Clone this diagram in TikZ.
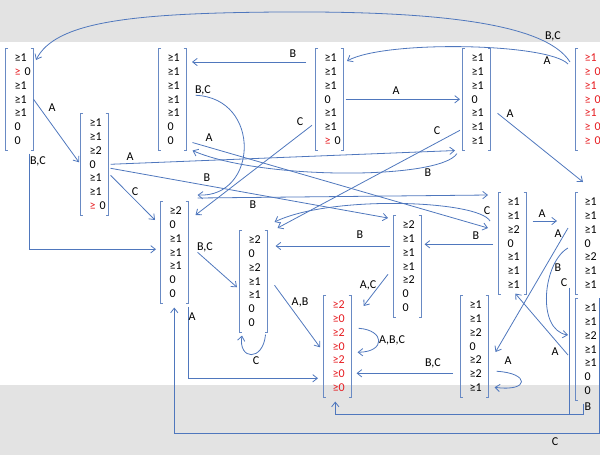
\documentclass[tikz,border=0pt]{standalone}
\usepackage{fontspec}
\setmainfont{Carlito}
\usetikzlibrary{arrows.meta,calc}
\definecolor{ln}{RGB}{79,119,189}
\definecolor{brc}{RGB}{105,138,196}
\definecolor{rd}{RGB}{230,25,30}
\definecolor{bgg}{RGB}{227,227,227}
\newcommand\rg[1]{\textcolor{rd}{#1}}
\newcommand\matfont{\fontsize{9}{10.3}\selectfont}
\begin{document}
\begin{tikzpicture}[x=0.75pt,y=-0.75pt,
 mat/.style={anchor=north west,minimum width=21pt,minimum height=76.5pt,inner xsep=7pt,inner ysep=0pt,text width=7pt,align=left,font=\matfont},
 brk/.style={draw=brc,line width=0.6pt},
 edge/.style={draw=ln,line width=0.6pt,-{Straight Barb[length=3.5pt,width=5.5pt]}},
 seg/.style={draw=ln,line width=0.6pt},
 lbl/.style={font=\fontsize{9}{10}\selectfont,inner sep=0pt}]
\useasboundingbox (0,0) rectangle (600,455);
\clip (0,0) rectangle (600,455);
\fill[bgg] (0,0) rectangle (600,42);
\fill[bgg] (0,385) rectangle (600,455);
% vectors
\node[mat] (m1) at (5,48) {≥1\\\rg{≥}~0\\≥1\\≥1\\≥1\\0\\0};
\node[mat] (m2) at (80,113) {≥1\\≥1\\≥2\\0\\≥1\\≥1\\\rg{≥}~0};
\node[mat] (m3) at (158,48) {≥1\\≥1\\≥1\\≥1\\≥1\\0\\0};
\node[mat] (m4) at (315,48) {≥1\\≥1\\≥1\\0\\≥1\\≥1\\\rg{≥}~0};
\node[mat] (m5) at (462,48) {≥1\\≥1\\≥1\\0\\≥1\\≥1\\≥1};
\node[mat,text=rd] (m6) at (575,48) {≥1\\≥~0\\≥1\\≥~0\\≥1\\≥~0\\≥~0};
\node[mat] (m7) at (160,201) {≥2\\0\\≥1\\≥1\\≥1\\0\\0};
\node[mat] (m8) at (239,230) {≥2\\0\\≥2\\≥1\\≥1\\0\\0};
\node[mat] (m9) at (393,215) {≥2\\≥1\\≥1\\≥1\\≥2\\0\\0};
\node[mat] (m10) at (498,192) {≥1\\≥1\\≥2\\0\\≥1\\≥1\\≥1};
\node[mat] (m11) at (575,192) {≥1\\≥1\\≥1\\0\\≥2\\≥1\\≥1};
\node[mat] (m12) at (575,298) {≥1\\≥1\\≥2\\≥1\\≥1\\0\\0};
\node[mat] (m13) at (460,295) {≥1\\≥1\\≥2\\0\\≥2\\≥2\\≥1};
\node[mat,text=rd] (m14) at (323,295) {≥2\\≥0\\≥2\\≥0\\≥2\\≥0\\≥0};
\foreach \n in {m1,m2,m3,m4,m5,m6,m7,m8,m9,m10,m11,m12,m13,m14}{
  \draw[brk] ($(\n.north west)+(3,0)$) -- (\n.north west) -- (\n.south west) -- ++(3,0);
  \draw[brk] ($(\n.north east)+(-3,0)$) -- (\n.north east) -- (\n.south east) -- ++(-3,0);
}
% edges
\draw[edge] ($(m6.north west)+(-5,14)$) .. controls (545,22) and (430,11) .. (280,12) .. controls (130,13) and (55,22) .. ($(m1.north west)+(31,12)$);
\draw[edge] ($(m6.north west)+(-7,16)$) .. controls (548,43) and (385,40) .. ($(m4.north west)+(32,13)$);
\draw[edge] ($(m4.north west)+(-9,14)$) -- ($(m3.north west)+(34,14)$);
\draw[edge] ($(m4.east)+(2,0)$) -- ($(m5.west)+(-2,0)$);
\draw[edge] (m1.east) -- ($(m2.west)+(-1,-2)$);
\draw[edge] ($(m1.south east)+(-4,3)$) |- ($(m7.west)+(-4,-3)$);
\draw[edge] ($(m2.east)+(2,0)$) -- ($(m5.south west)+(-7,0)$);
\draw[edge] ($(m2.east)+(2,4)$) -- ($(m9.north west)+(-5,3)$);
\draw[edge] ($(m2.east)+(2,11)$) -- ($(m7.north west)+(-5,19)$);
\draw[edge] ($(m3.south east)+(6,-8)$) -- ($(m10.north west)+(-10,36)$);
\draw[edge] ($(m3.east)+(9,-4)$) .. controls (262,98) and (258,198) .. ($(m7.north east)+(9,-6)$);
\draw[edge] ($(m5.south west)+(-5,3)$) .. controls (440,180) and (260,180) .. ($(m3.south east)+(6,0)$);
\draw[edge] ($(m5.east)+(7,14)$) -- ($(m11.north west)+(8,-10)$);
\draw[edge] ($(m5.west)+(-2,31)$) -- ($(m8.north east)+(10,-2)$);
\draw[edge] ($(m4.west)+(-3,26)$) -- ($(m7.north east)+(7,14)$);
\draw[edge] ($(m7.north east)+(9,-3)$) -- ($(m10.north west)+(-10,3)$);
\draw[edge] ($(m7.east)+(9,0)$) -- ($(m8.west)+(-2,6)$);
\draw[edge] ($(m7.south east)+(0,3)$) |- ($(m14.west)+(-5,32)$);
\draw[edge] ($(m8.east)+(7,4)$) -- ($(m14.west)+(-3,1)$);
\draw[edge] ($(m8.south east)+(-2,2)$) .. controls (263,362) and (238,360) .. ($(m8.south west)+(3,3)$);
\draw[edge] ($(m9.north west)+(-3,31)$) -- ($(m8.north east)+(8,16)$);
\draw[edge] ($(m9.west)+(-5,8)$) -- ($(m14.north east)+(12,11)$);
\draw[edge] ($(m10.west)+(-5,1)$) -- ($(m9.east)+(3,-22)$);
\draw[edge] ($(m10.north east)+(6,29)$) -- ($(m11.north west)+(-18,29)$);
\draw[edge] ($(m10.north west)+(-8,29)$) .. controls (478,200) and (330,195) .. ($(m8.north east)+(7,-8)$);
\draw[edge] ($(m11.north west)+(-7,36)$) -- ($(m13.north east)+(7,57)$);
\draw[edge] ($(m11.north west)+(-7,56)$) .. controls (543,262) and (536,330) .. ($(m12.north west)+(-7,37)$);
\draw[edge] ($(m11.south west)+(-6,-7)$) -- ++(0,127) -| ($(m14.south)+(-2,4)$);
\draw[seg] ($(m12.south west)+(8,3)$) -- ++(0,11) -- ++(-14,0);
\draw[edge] ($(m12.north east)+(-4,0)$) -- ++(0,135) -| ($(m7.south)+(0,4)$);
\draw[edge] ($(m12.north west)+(-7,57)$) -- ($(m10.south)+(3,-1)$);
\draw[edge] ($(m13.east)+(8,25)$) .. controls (530,373) and (530,392) .. ($(m13.east)+(6,41)$);
\draw[edge] ($(m13.west)+(-7,27)$) -- ($(m14.east)+(5,27)$);
\draw[edge] ($(m14.east)+(7,-18)$) .. controls (385,330) and (386,352) .. ($(m14.east)+(6,6)$);
% labels
\node[lbl] (l1) at (553,36) {B,C};
\node[lbl] (l2) at (547,61) {A};
\node[lbl] (l3) at (293,54) {B};
\node[lbl] (l4) at (396,91) {A};
\node[lbl] (l5) at (52,108) {A};
\node[lbl] (l6) at (38,161) {B,C};
\node[lbl] (l7) at (130,157) {A};
\node[lbl] (l8) at (207,178) {B};
\node[lbl] (l9) at (135,192) {C};
\node[lbl] (l10) at (209,138) {A};
\node[lbl] (l11) at (203,90) {B,C};
\node[lbl] (l12) at (428,173) {B};
\node[lbl] (l13) at (510,114) {A};
\node[lbl] (l14) at (437,131) {C};
\node[lbl] (l15) at (300,122) {C};
\node[lbl] (l16) at (253,205) {B};
\node[lbl] (l17) at (205,247) {B,C};
\node[lbl] (l18) at (192,317) {A};
\node[lbl] (l19) at (300,302) {A,B};
\node[lbl] (l20) at (256,361) {C};
\node[lbl] (l21) at (360,235) {B};
\node[lbl] (l22) at (368,285) {A,C};
\node[lbl] (l23) at (476,236) {B};
\node[lbl] (l24) at (542,214) {A};
\node[lbl] (l25) at (487,211) {C};
\node[lbl] (l26) at (558,234) {A};
\node[lbl] (l27) at (558,268) {B};
\node[lbl] (l28) at (564,283) {C};
\node[lbl] (l29) at (588,407) {B};
\node[lbl] (l30) at (555,442) {C};
\node[lbl] (l31) at (555,352) {A};
\node[lbl] (l32) at (508,361) {A};
\node[lbl] (l33) at (433,363) {B,C};
\node[lbl] (l34) at (392,340) {A,B,C};
\end{tikzpicture}
\end{document}
